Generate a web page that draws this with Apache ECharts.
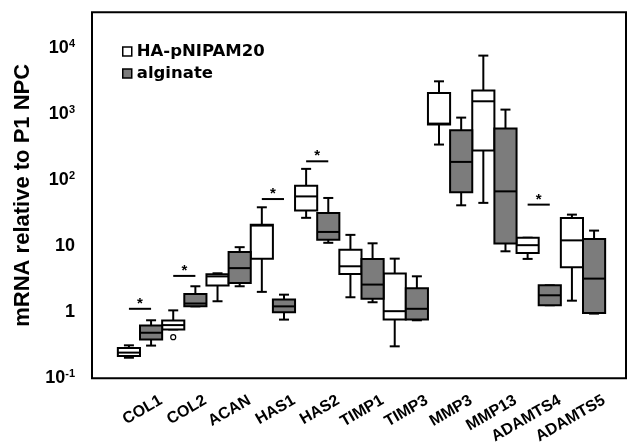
<!DOCTYPE html>
<html>
<head>
<meta charset="utf-8">
<title>mRNA relative to P1 NPC</title>
<script src="https://cdn.jsdelivr.net/npm/echarts@6/dist/echarts.min.js"></script>
<style>
  html, body { margin: 0; padding: 0; background: #fff; }
  #main { width: 628px; height: 442px; }
</style>
</head>
<body>
<div id="main"></div>
<script>
// genes on the x axis
var genes = ['COL1', 'COL2', 'ACAN', 'HAS1', 'HAS2', 'TIMP1', 'TIMP3', 'MMP3', 'MMP13', 'ADAMTS4', 'ADAMTS5'];

// box values per gene: [min, Q1, median, Q3, max]
var haBoxes = [
    [0.205, 0.217, 0.245, 0.287, 0.316],
    [0.55, 0.55, 0.64, 0.75, 1.07],
    [1.47, 2.54, 3.5, 3.76, 3.9],
    [2.04, 6.5, 20.6, 21.3, 39],
    [27, 35, 57, 83, 149],
    [1.69, 3.82, 4.98, 8.9, 14.9],
    [0.305, 0.775, 1.04, 3.86, 6.5],
    [348, 698, 723, 2110, 3160],
    [45.5, 282, 1575, 2290, 7750],
    [6.44, 7.94, 10.4, 13.5, 13.5],
    [1.5, 4.8, 12.3, 26.9, 30.2]
];
var alginateBoxes = [
    [0.313, 0.386, 0.49, 0.63, 0.757],
    [1.23, 1.23, 1.36, 1.9, 2.48],
    [2.48, 2.77, 4.67, 8.2, 9.7],
    [0.775, 1.0, 1.23, 1.56, 1.85],
    [11.3, 12.6, 16.5, 32, 54],
    [1.42, 1.61, 2.63, 6.44, 11.1],
    [0.757, 0.775, 1.13, 2.31, 3.51],
    [41.8, 65.8, 190, 572, 891],
    [8.4, 11, 68, 607, 1178],
    [1.28, 1.28, 1.81, 2.56, 2.56],
    [0.955, 0.98, 3.24, 12.9, 17.3]
];

// outliers (HA-pNIPAM20)
var haOutlierGenes = ['COL2'];
var haOutlierValues = [0.42];

// significance bars (*)
var sigGenes = ['COL1', 'COL2', 'HAS1', 'HAS2', 'ADAMTS4'];
var sigLevels = [1.13, 3.56, 52, 194, 42.8];

var FONT = 'Liberation Sans, Arial, sans-serif';

function withIndex(rows) {
    return rows.map(function (r, i) { return [i].concat(r); });
}

// side: -1 = left half of the band, +1 = right half
function boxRenderer(side) {
    return function (params, api) {
        var idx = api.value(0);
        var band = api.size([1, 0], [idx, 1])[0];
        var w = band / 2;
        var x = api.coord([idx, 1])[0] + side * w / 2;
        var y = [1, 2, 3, 4, 5].map(function (d) {
            return api.coord([idx, api.value(d)])[1];
        });
        var fill = api.visual('color');
        var ln = { stroke: '#000', lineWidth: 2 };
        var cap = 5;
        return {
            type: 'group',
            children: [
                { type: 'line', shape: { x1: x, y1: y[4], x2: x, y2: y[3] }, style: ln },
                { type: 'line', shape: { x1: x, y1: y[1], x2: x, y2: y[0] }, style: ln },
                { type: 'line', shape: { x1: x - cap, y1: y[4], x2: x + cap, y2: y[4] }, style: ln },
                { type: 'line', shape: { x1: x - cap, y1: y[0], x2: x + cap, y2: y[0] }, style: ln },
                { type: 'rect', shape: { x: x - w / 2, y: y[3], width: w, height: y[1] - y[3] },
                  style: { fill: fill, stroke: '#000', lineWidth: 2 } },
                { type: 'line', shape: { x1: x - w / 2, y1: y[2], x2: x + w / 2, y2: y[2] }, style: ln }
            ]
        };
    };
}

function outlierRenderer(side) {
    return function (params, api) {
        var idx = api.value(0);
        var band = api.size([1, 0], [idx, 1])[0];
        var p = api.coord([idx, api.value(1)]);
        return {
            type: 'circle',
            shape: { cx: p[0] + side * band / 4, cy: p[1], r: 2.5 },
            style: { fill: '#fff', stroke: '#000', lineWidth: 1.2 }
        };
    };
}

function sigRenderer(params, api) {
    var idx = api.value(0);
    var band = api.size([1, 0], [idx, 1])[0];
    var p = api.coord([idx, api.value(1)]);
    return {
        type: 'group',
        children: [
            { type: 'line', shape: { x1: p[0] - band / 4, y1: p[1], x2: p[0] + band / 4, y2: p[1] },
              style: { stroke: '#000', lineWidth: 2 } },
            { type: 'text', style: { text: '*', x: p[0], y: p[1] - 5, align: 'center', verticalAlign: 'middle',
              font: 'bold 15px ' + FONT, fill: '#000' } }
        ]
    };
}

function yLabel(v) {
    var e = Math.round(Math.log(v) / Math.LN10);
    if (e === 0) return '{b|1}';
    if (e === 1) return '{b|10}';
    return '{b|10}{s|' + e + '}';
}

var myChart = echarts.init(document.getElementById('main'));

var option = {
    animation: false,
    grid: [
        // frame
        { left: 92, right: 2, top: 12.3, bottom: 63.7, show: true, borderColor: '#000', borderWidth: 2,
          backgroundColor: 'transparent', outerBoundsMode: 'none' },
        // data
        { left: 117.85, right: 22.85, top: 48.3, bottom: 63.7, outerBoundsMode: 'none' },
        // gene labels, shifted right of the ticks
        { left: 138.85, right: 1.85, top: 48.3, bottom: 63.7, outerBoundsMode: 'none' }
    ],
    legend: {
        orient: 'vertical',
        left: 117,
        top: 38,
        itemWidth: 9,
        itemHeight: 9,
        itemGap: 5,
        icon: 'rect',
        textStyle: { fontFamily: 'DejaVu Sans', fontWeight: 'bold', fontSize: 16.5, color: '#000' },
        data: [
            { name: 'HA-pNIPAM20', itemStyle: { color: '#fff', borderColor: '#000', borderWidth: 1.5 } },
            { name: 'alginate', itemStyle: { color: '#7c7c7c', borderColor: '#000', borderWidth: 1.5 } }
        ]
    },
    xAxis: [
        { gridIndex: 0, type: 'value', show: false, min: 0, max: 1 },
        {
            gridIndex: 1,
            type: 'category',
            data: genes,
            boundaryGap: true,
            axisLine: { show: false },
            axisTick: { alignWithLabel: true, length: 5, lineStyle: { color: '#000', width: 1.5 } },
            axisLabel: { show: false }
        },
        {
            gridIndex: 2,
            type: 'category',
            data: genes,
            boundaryGap: true,
            axisLine: { show: false },
            axisTick: { show: false },
            axisLabel: {
                interval: 0,
                rotate: 30,
                margin: 21,
                color: '#000',
                fontFamily: FONT,
                fontWeight: 'bold',
                fontSize: 16
            }
        }
    ],
    yAxis: [
        {
            gridIndex: 0,
            type: 'value',
            min: 0,
            max: 1,
            name: 'mRNA relative to P1 NPC',
            nameLocation: 'middle',
            nameGap: 58,
            nameTextStyle: { fontFamily: FONT, fontWeight: 'bold', fontSize: 22, color: '#000' },
            axisLine: { show: false },
            axisTick: { show: false },
            axisLabel: { show: false },
            splitLine: { show: false }
        },
        {
            gridIndex: 1,
            type: 'log',
            logBase: 10,
            min: 0.1,
            max: 10000,
            offset: 25.85,
            axisLine: { show: false },
            splitLine: { show: false },
            axisTick: { length: 7, lineStyle: { color: '#000', width: 1.5 } },
            axisLabel: {
                margin: 17,
                formatter: yLabel,
                rich: {
                    b: { fontFamily: FONT, fontWeight: 'bold', fontSize: 18, color: '#000' },
                    s: { fontFamily: FONT, fontWeight: 'bold', fontSize: 11, color: '#000', padding: [0, 0, 8, 0] }
                }
            }
        },
        { gridIndex: 2, type: 'value', show: false, min: 0, max: 1 }
    ],
    series: [
        {
            name: 'HA-pNIPAM20',
            type: 'custom',
            xAxisIndex: 1, yAxisIndex: 1,
            itemStyle: { color: '#fff' },
            encode: { x: 0, y: [1, 2, 3, 4, 5] },
            renderItem: boxRenderer(-1),
            data: withIndex(haBoxes)
        },
        {
            name: 'alginate',
            type: 'custom',
            xAxisIndex: 1, yAxisIndex: 1,
            itemStyle: { color: '#7c7c7c' },
            encode: { x: 0, y: [1, 2, 3, 4, 5] },
            renderItem: boxRenderer(1),
            data: withIndex(alginateBoxes)
        },
        {
            name: 'HA-pNIPAM20',
            type: 'custom',
            xAxisIndex: 1, yAxisIndex: 1,
            encode: { x: 0, y: 1 },
            renderItem: outlierRenderer(-1),
            data: haOutlierGenes.map(function (g, i) { return [genes.indexOf(g), haOutlierValues[i]]; })
        },
        {
            name: 'sig',
            type: 'custom',
            xAxisIndex: 1, yAxisIndex: 1,
            encode: { x: 0, y: 1 },
            renderItem: sigRenderer,
            data: sigGenes.map(function (g, i) { return [genes.indexOf(g), sigLevels[i]]; })
        }
    ]
};
myChart.setOption(option);
</script>
</body>
</html>
